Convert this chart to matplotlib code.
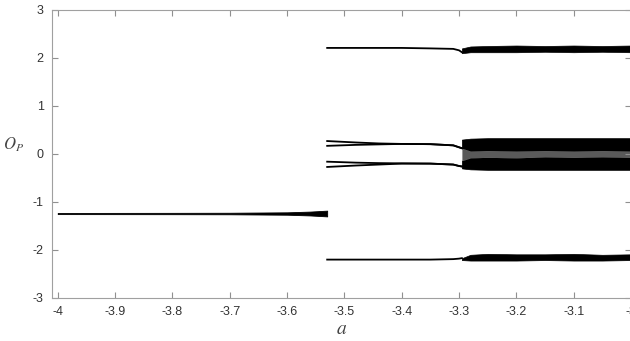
import matplotlib.pyplot as plt

plt.rcParams['font.family'] = ['Liberation Sans', 'DejaVu Sans']
plt.rcParams['mathtext.fontset'] = 'stix'

# period-1 branch, a < -3.53 (centre and half width of the smeared line)
a_p1 = [-4.0, -3.8, -3.7, -3.6, -3.56, -3.53]
y_p1 = [-1.24, -1.24, -1.24, -1.24, -1.24, -1.24]
w_p1 = [0.012, 0.014, 0.016, 0.025, 0.04, 0.06]

# periodic branches between -3.53 and about -3.30
a_per = [-3.53, -3.48, -3.44, -3.40, -3.35, -3.31, -3.30, -3.295]
y_top = [2.21, 2.21, 2.21, 2.21, 2.20, 2.19, 2.16, 2.12]
y_bot = [-2.20, -2.20, -2.20, -2.20, -2.20, -2.19, -2.18, -2.17]
y_m1 = [0.27, 0.24, 0.22, 0.21, 0.205, 0.18, 0.14, 0.12]
y_m2 = [0.17, 0.19, 0.20, 0.21, 0.205, 0.18, 0.14, 0.12]
y_m3 = [-0.16, -0.18, -0.19, -0.195, -0.20, -0.22, -0.25, -0.26]
y_m4 = [-0.27, -0.24, -0.22, -0.20, -0.20, -0.22, -0.25, -0.26]

# chaotic bands, a from about -3.29 to -3.0 (lower/upper edges)
a_ch = [-3.295, -3.28, -3.25, -3.2, -3.15, -3.1, -3.05, -3.0]
top_lo = [2.10, 2.12, 2.12, 2.12, 2.13, 2.12, 2.13, 2.12]
top_hi = [2.20, 2.24, 2.25, 2.26, 2.25, 2.26, 2.25, 2.26]
bot_lo = [-2.21, -2.22, -2.22, -2.22, -2.21, -2.22, -2.22, -2.21]
bot_hi = [-2.17, -2.10, -2.08, -2.09, -2.09, -2.08, -2.10, -2.09]
mid_hi = [0.30, 0.32, 0.33, 0.33, 0.33, 0.33, 0.33, 0.33]
gap_hi = [0.12, 0.06, 0.07, 0.06, 0.07, 0.06, 0.07, 0.06]
gap_lo = [-0.14, -0.08, -0.07, -0.08, -0.06, -0.07, -0.06, -0.07]
mid_lo = [-0.30, -0.32, -0.33, -0.33, -0.33, -0.33, -0.33, -0.33]

fig = plt.figure(figsize=(6.3, 3.41), dpi=100)
ax = fig.add_axes([52 / 630, 43 / 341, 579 / 630, 288 / 341])

lo = [y - w for y, w in zip(y_p1, w_p1)]
hi = [y + w for y, w in zip(y_p1, w_p1)]
ax.fill_between(a_p1, lo, hi, color='black', lw=0.6)

for yy in (y_top, y_bot, y_m1, y_m2, y_m3, y_m4):
    ax.plot(a_per, yy, color='black', lw=1.3)

ax.fill_between(a_ch, top_lo, top_hi, color='black', lw=0.5)
ax.fill_between(a_ch, bot_lo, bot_hi, color='black', lw=0.5)
ax.fill_between(a_ch, gap_hi, mid_hi, color='black', lw=0.5)
ax.fill_between(a_ch, mid_lo, gap_lo, color='black', lw=0.5)
ax.fill_between(a_ch, gap_lo, gap_hi, color='#5a5a5a', lw=0)

ax.set_xlim(-4.01, -3.0)
ax.set_ylim(-3, 3)
ax.set_xticks([-4, -3.9, -3.8, -3.7, -3.6, -3.5, -3.4, -3.3, -3.2, -3.1, -3])
ax.set_xticklabels(['-4', '-3.9', '-3.8', '-3.7', '-3.6', '-3.5', '-3.4',
                    '-3.3', '-3.2', '-3.1', '-3'])
ax.set_yticks([-3, -2, -1, 0, 1, 2, 3])
ax.set_yticklabels(['-3', '-2', '-1', '0', '1', '2', '3'])
ax.tick_params(direction='in', top=True, right=True, length=4,
               color='#909090', labelcolor='#333333', labelsize=9, pad=6)
for s in ax.spines.values():
    s.set_color('#a0a0a0')
    s.set_linewidth(0.8)

ax.set_xlabel('$a$', fontsize=14, color='#444444', labelpad=2)
ax.set_ylabel('$O_P$', fontsize=12, color='#444444', rotation=0, labelpad=14)

fig.savefig('out.png', dpi=100)
